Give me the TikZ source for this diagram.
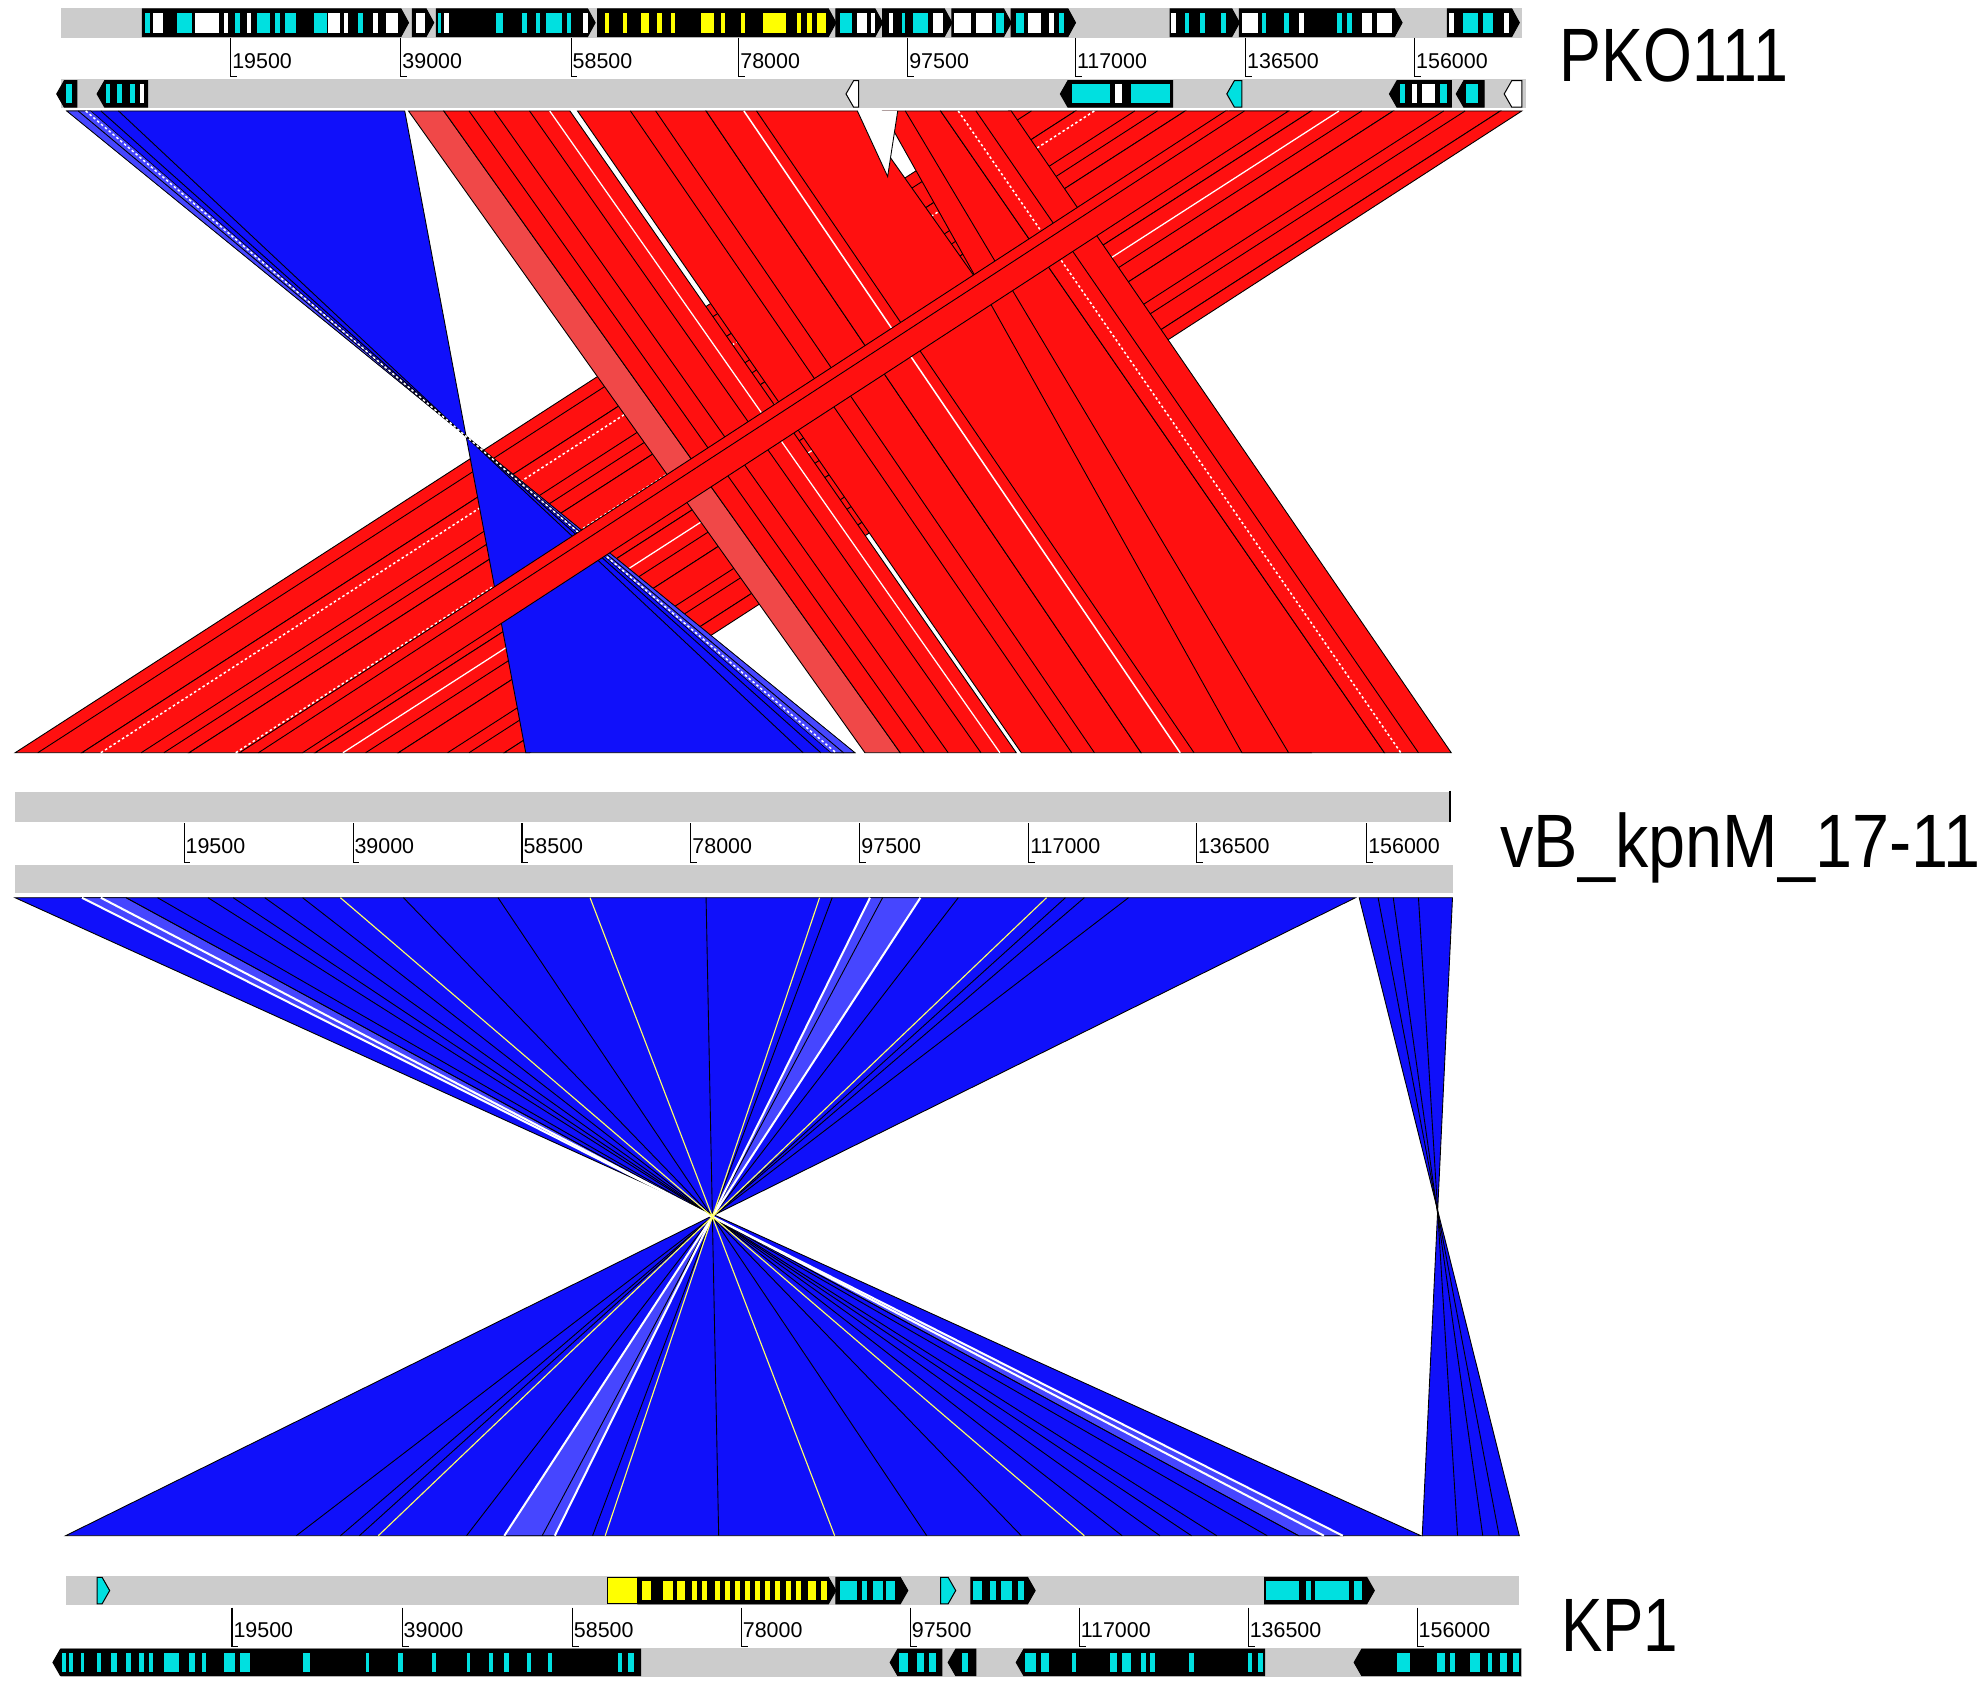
\documentclass[tikz,border=0pt]{standalone}
\usepackage{fontspec}
\setmainfont{Liberation Sans}
\definecolor{barg}{RGB}{204,204,204}
\definecolor{hred}{RGB}{255,16,16}
\definecolor{hredl}{RGB}{240,72,72}
\definecolor{hblue}{RGB}{16,16,250}
\definecolor{hbluel}{RGB}{70,70,255}
\definecolor{gcyan}{RGB}{0,224,224}
\definecolor{gyel}{RGB}{255,255,0}
\newcommand\fwdband[5]{\filldraw[#5] (#1,\cTop) -- (#2,\cTop) -- (#4,\cBot) -- (#3,\cBot) -- cycle;}
\newcommand\revband[5]{\filldraw[#5] (#1,\cTop) -- (#2,\cTop) -- (#3,\cBot) -- (#4,\cBot) -- cycle;}
\newcommand\rblkc[5]{\filldraw[fill=#5,draw=black,line width=0.8pt] (#1,#3) -- (#2-6,#3) -- (#2,{(#3+#4)/2}) -- (#2-6,#4) -- (#1,#4) -- cycle;}
\newcommand\rblk[4]{\rblkc{#1}{#2}{#3}{#4}{black}}
\newcommand\lblkc[5]{\filldraw[fill=#5,draw=black,line width=0.8pt] (#1+6,#3) -- (#2,#3) -- (#2,#4) -- (#1+6,#4) -- (#1,{(#3+#4)/2}) -- cycle;}
\newcommand\lblk[4]{\lblkc{#1}{#2}{#3}{#4}{black}}
\newcommand\gmarks[3]{\foreach \mkA/\mkB/\mkC in {#3}{\fill[\mkC] (\mkA,#1+3) rectangle (\mkB,#2-3);}}
\begin{document}
\begin{tikzpicture}[x=1pt,y=-1pt,
  tk/.style={draw=black,line width=0.8pt},
  tlab/.style={anchor=base west,inner sep=0pt,font=\fontsize{17}{17}\selectfont},
  glab/.style={anchor=base west,inner sep=0pt,font=\fontsize{60}{60}\selectfont},
  hitred/.style={fill=hred,draw=black,line width=0.7pt},
  hitredl/.style={fill=hredl,draw=black,line width=0.7pt},
  hitblue/.style={fill=hblue,draw=black,line width=0.7pt},
  hitbluel/.style={fill=hbluel,draw=black,line width=0.5pt},
  hitline/.style={draw=black,line width=0.7pt},
  gapline/.style={draw=white,line width=1.6pt},
  dotline/.style={draw=white,line width=1.2pt,dash pattern=on 2pt off 2pt},
  yelline/.style={draw=gyel!60!white,line width=0.9pt}]
\useasboundingbox[fill=white] (0,0) rectangle (1568,1333);

% ================= top comparison PKO111 -> vB =================
\def\cTop{88}\def\cBot{597}
\fwdband{800}{853}{12}{65}{hitred}
\fwdband{853}{940}{65}{150}{hitred}
\fwdband{940}{1040}{150}{250}{hitred}
\fwdband{1040}{1105}{250}{316}{hitred}
\fwdband{1105}{1190}{316}{400}{hitred}
\fwdband{1190}{1207}{400}{420}{hitred}
\draw[dotline] (80,597) -- (868,88);
\draw[dotline] (187,597) -- (975,88);
\draw[gapline,line width=1pt] (272,597) -- (1062,88);
\draw[hitline] (30,597) -- (818,88);
\draw[hitline] (112,597) -- (900,88);
\draw[hitline] (130,597) -- (918,88);
\draw[hitline] (290,597) -- (1080,88);
\draw[hitline] (355,597) -- (1145,88);
\draw[hitline] (372,597) -- (1162,88);
\fwdband{324}{352}{686}{714}{hitredl}
\fwdband{352}{452}{714}{806}{hitred}
\fwdband{458}{560}{810}{905}{hitred}
\fwdband{560}{680}{905}{1040}{hitred}
\fwdband{700}{746}{985}{1098}{hitred}
\fwdband{746}{802}{1098}{1151}{hitred}
\draw[hitline] (372,88) -- (733,597);
\draw[hitline] (392,88) -- (752,597);
\draw[hitline] (420,88) -- (778,597);
\draw[gapline,line width=1pt] (436,88) -- (793,597);
\draw[hitline] (500,88) -- (850,597);
\draw[hitline] (520,88) -- (868,597);
\draw[gapline,line width=1.2pt] (590,88) -- (936,597);
\draw[hitline] (600,88) -- (947,597);
\draw[hitline] (718,88) -- (1022,597);
\draw[dotline] (760,88) -- (1111,597);
\draw[hitline] (774,88) -- (1125,597);
\fill[white] (680,88) -- (712,88) -- (704,140) -- cycle;
\draw[hitline] (680,88) -- (704,140) -- (712,88);
\revband{53}{321}{417}{678}{hitblue}
\revband{53}{72}{659}{678}{hitbluel}
\draw[hitline] (62,88) -- (669,597);
\draw[hitline] (80,88) -- (651,597);
\draw[hitline] (94,88) -- (637,597);
\draw[dotline] (68,88) -- (663,597);
\fwdband{972}{1022}{190}{240}{hitred}
\draw[hitline] (205,597) -- (987,88);

% ================= bottom comparison vB -> KP1 =================
\def\cTop{712}\def\cBot{1218}
\revband{12}{1075}{52}{1127}{hitblue}
\revband{65}{100}{1030}{1065}{hitbluel}
\revband{690}{730}{400}{440}{hitbluel}
\foreach \tx in {100,125,165,185,210,240,320,395,560,660,700,760,845,860,895}
  {\draw[hitline] (\tx,712) -- ({1130-\tx},1218);}
\foreach \tx in {65,80,690,730}
  {\draw[gapline] (\tx,712) -- ({1130-\tx},1218);}
\foreach \tx in {270,468,650,830}
  {\draw[yelline] (\tx,712) -- ({1130-\tx},1218);}
\revband{1078}{1152}{1128}{1205}{hitblue}
\draw[hitline] (1093,712) -- (1189,1218);
\draw[hitline] (1105,712) -- (1176,1218);
\draw[hitline] (1125,712) -- (1156,1218);

% ================= PKO111 track =================
\fill[barg] (48,6) rectangle (1207,30);
\fill[barg] (48,63) rectangle (1210,86);
\rblk{113}{324}{7}{29}
\gmarks{7}{29}{115/119/gcyan,121/129/white,140/152/gcyan,155/174/white,178/181/white,186/190/gcyan,196/199/white,204/214/gcyan,218/222/gcyan,226/235/gcyan,249/259/gcyan,260/270/white,273/276/white,284/288/gcyan,296/300/white,306/316/white}
\rblk{327}{344}{7}{29}
\gmarks{7}{29}{330/337/white}
\rblk{346}{472}{7}{29}
\gmarks{7}{29}{347/350/gcyan,352/356/white,393/399/gcyan,414/418/gcyan,425/428/gcyan,433/446/gcyan,450/453/gcyan,462/466/white}
\rblk{474}{663}{7}{29}
\gmarks{7}{29}{480/483/gyel,494/497/gyel,508/515/gyel,521/525/gyel,532/535/gyel,556/566/gyel,572/575/gyel,588/591/gyel,605/623/gyel,632/635/gyel,640/644/gyel,648/655/gyel}
\rblk{663}{700}{7}{29}
\gmarks{7}{29}{666/676/gcyan,680/688/white,691/694/white}
\rblk{700}{755}{7}{29}
\gmarks{7}{29}{705/708/white,715/718/gcyan,724/736/gcyan,740/748/white}
\rblk{755}{802}{7}{29}
\gmarks{7}{29}{757/770/white,774/787/white,790/796/gcyan}
\rblk{802}{853}{7}{29}
\gmarks{7}{29}{806/812/gcyan,815/826/white,832/836/white,840/844/gcyan}
\rblk{928}{983}{7}{29}
\gmarks{7}{29}{929/933/white,940/943/gcyan,952/956/gcyan,968/972/gcyan}
\rblk{983}{1112}{7}{29}
\gmarks{7}{29}{985/998/white,1001/1004/gcyan,1018/1022/gcyan,1030/1034/white,1060/1064/gcyan,1068/1072/gcyan,1080/1088/white,1092/1104/white}
\rblk{1148}{1205}{7}{29}
\gmarks{7}{29}{1149/1153/white,1160/1172/gcyan,1176/1184/gcyan,1193/1197/white}
\lblk{45}{61}{64}{85}
\gmarks{64}{85}{52/57/gcyan}
\lblk{77}{117}{64}{85}
\gmarks{64}{85}{84/87/gcyan,93/97/gcyan,103/107/gcyan,111/114/white}
\lblkc{671}{681}{64}{85}{white}
\lblk{841}{930}{64}{85}
\gmarks{64}{85}{850/880/gcyan,884/890/white,897/928/gcyan}
\lblkc{973}{985}{64}{85}{gcyan}
\lblk{1102}{1151}{64}{85}
\gmarks{64}{85}{1110/1114/gcyan,1120/1124/white,1128/1138/white,1142/1148/gcyan}
\lblk{1155}{1177}{64}{85}
\gmarks{64}{85}{1163/1172/gcyan}
\lblkc{1193}{1207}{64}{85}{white}
\foreach \i/\x/\v in {1/183/19500,2/318/39000,3/453/58500,4/586/78000,5/720/97500,6/853/117000,7/988/136500,8/1122/156000}{
  \draw[tk] (\x,30) -- (\x,61) -- (\x+5,61);
  \node[tlab] (ta\i) at (\x+1,54) {\v};
}
\node[glab,xscale=0.83] (lab1) at (1237,65) {PKO111};

% ================= vB_kpnM_17-11 track =================
\fill[barg] (12,628) rectangle (1150,652);
\fill[barg] (12,686) rectangle (1152,708);
\draw[line width=1.6pt] (1150,627) -- (1150,652);
\foreach \i/\x/\v in {1/146/19500,2/280/39000,3/414/58500,4/548/78000,5/682/97500,6/816/117000,7/949/136500,8/1084/156000}{
  \draw[tk] (\x,653) -- (\x,684) -- (\x+5,684);
  \node[tlab] (tb\i) at (\x+1,677) {\v};
}
\node[glab,xscale=0.88] (lab2) at (1190,688) {vB\_kpnM\_17-11};

% ================= KP1 track =================
\fill[barg] (52,1250) rectangle (1205,1273);
\fill[barg] (48,1307) rectangle (1207,1330);
\rblkc{77}{87}{1251}{1272}{gcyan}
\filldraw[fill=gyel,draw=black,line width=0.8pt] (482,1251) rectangle (506,1272);
\rblk{506}{663}{1251}{1272}
\gmarks{1251}{1272}{509/516/gyel,526/534/gyel,537/543/gyel,549/553/gyel,557/561/gyel,567/571/gyel,575/579/gyel,583/587/gyel,591/595/gyel,599/603/gyel,607/611/gyel,615/619/gyel,623/627/gyel,631/635/gyel,641/647/gyel,651/656/gyel}
\rblk{663}{720}{1251}{1272}
\gmarks{1251}{1272}{666/680/gcyan,684/688/gcyan,692/700/gcyan,703/710/gcyan}
\rblkc{746}{758}{1251}{1272}{gcyan}
\rblk{770}{821}{1251}{1272}
\gmarks{1251}{1272}{772/779/gcyan,785/790/gcyan,794/803/gcyan,807/812/gcyan}
\rblk{1003}{1090}{1251}{1272}
\gmarks{1251}{1272}{1004/1030/gcyan,1036/1040/gcyan,1043/1070/gcyan,1074/1080/gcyan}
\lblk{42}{508}{1308}{1329}
\gmarks{1308}{1329}{49/52/gcyan,55/58/gcyan,64/67/gcyan,77/80/gcyan,88/93/gcyan,100/104/gcyan,110/114/gcyan,118/121/gcyan,130/142/gcyan,150/155/gcyan,160/163/gcyan,178/186/gcyan,190/198/gcyan,240/246/gcyan,290/293/gcyan,316/320/gcyan,343/346/gcyan,370/373/gcyan,388/391/gcyan,400/404/gcyan,418/421/gcyan,435/438/gcyan,490/493/gcyan,498/503/gcyan}
\lblk{706}{747}{1308}{1329}
\gmarks{1308}{1329}{713/720/gcyan,727/733/gcyan,737/742/gcyan}
\lblk{752}{774}{1308}{1329}
\gmarks{1308}{1329}{763/768/gcyan}
\lblk{806}{1003}{1308}{1329}
\gmarks{1308}{1329}{813/822/gcyan,826/832/gcyan,850/853/gcyan,880/886/gcyan,890/897/gcyan,905/909/gcyan,912/916/gcyan,943/947/gcyan,990/993/gcyan,998/1002/gcyan}
\lblk{1074}{1206}{1308}{1329}
\gmarks{1308}{1329}{1108/1118/gcyan,1140/1146/gcyan,1150/1154/gcyan,1166/1174/gcyan,1180/1183/gcyan,1190/1195/gcyan,1200/1205/gcyan}
\foreach \i/\x/\v in {1/184/19500,2/319/39000,3/454/58500,4/588/78000,5/722/97500,6/856/117000,7/990/136500,8/1124/156000}{
  \draw[tk] (\x,1275) -- (\x,1306) -- (\x+5,1306);
  \node[tlab] (tc\i) at (\x+1,1299) {\v};
}
\node[glab,xscale=0.82] (lab3) at (1238,1310) {KP1};
\end{tikzpicture}
\end{document}
